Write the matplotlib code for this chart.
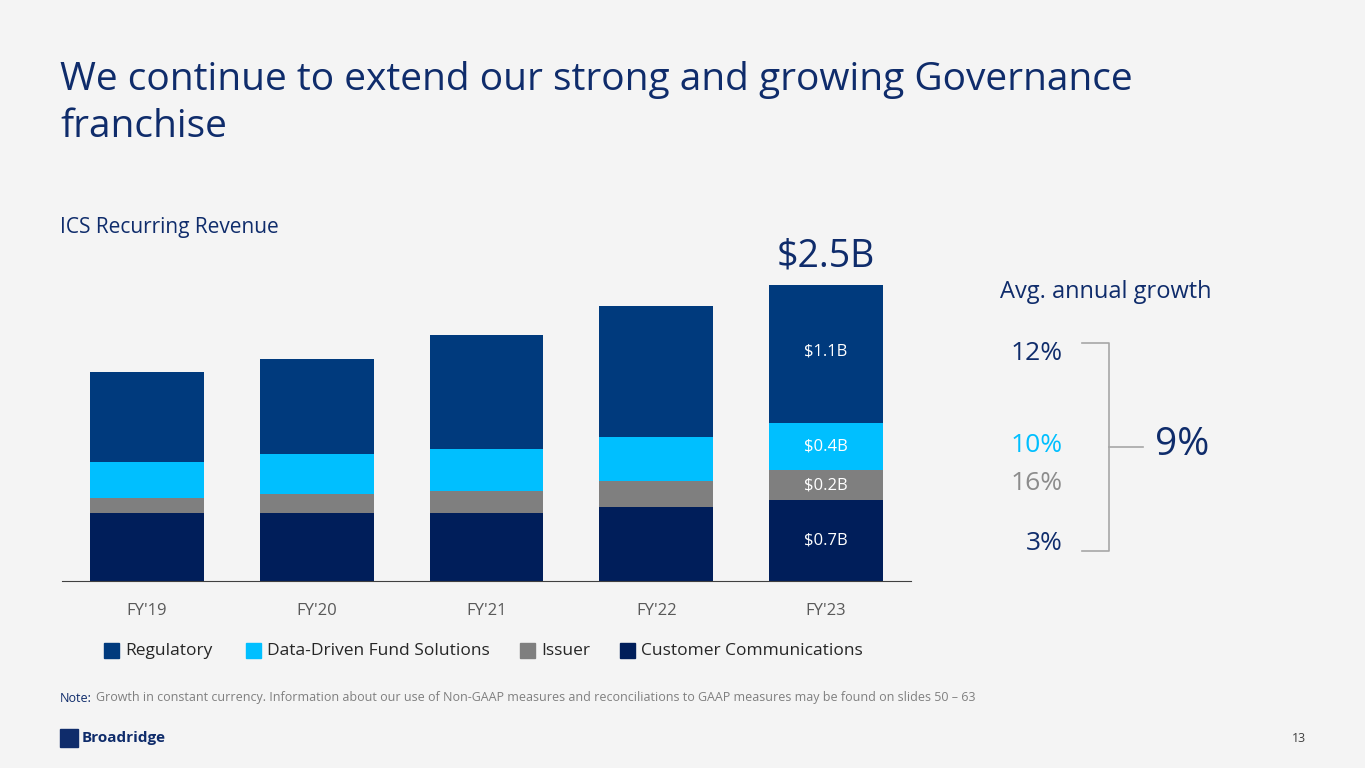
import matplotlib
matplotlib.use("Agg")
import matplotlib.pyplot as plt
from matplotlib.patches import Rectangle
import numpy as np

plt.rcParams['font.family'] = ['Open Sans', 'DejaVu Sans']

years = ["FY'19", "FY'20", "FY'21", "FY'22", "FY'23"]
customer_comm = [0.57, 0.57, 0.57, 0.62, 0.68]
issuer = [0.13, 0.16, 0.19, 0.22, 0.25]
ddfs = [0.30, 0.34, 0.35, 0.37, 0.40]
regulatory = [0.76, 0.80, 0.96, 1.10, 1.16]
fy23_labels = ["$0.7B", "$0.2B", "$0.4B", "$1.1B"]
series_names = ["Regulatory", "Data-Driven Fund Solutions", "Issuer", "Customer Communications"]
growth = ["12%", "10%", "16%", "3%"]

C_REG, C_DDFS, C_ISS, C_CC = "#003A7D", "#00BFFF", "#7F7F7F", "#001E5A"
BG = "#F4F4F4"
TITLE = "#0F2C6B"

W, H = 1365, 768
fig = plt.figure(figsize=(13.65, 7.68), dpi=100, facecolor=BG)
def fx(p): return p / W
def fy(p): return 1 - p / H

fig.text(fx(60), fy(80), "We continue to extend our strong and growing Governance",
         fontsize=28, color=TITLE, va="center", ha="left")
fig.text(fx(60), fy(127), "franchise", fontsize=28, color=TITLE, va="center", ha="left")
fig.text(fx(60), fy(228), "ICS Recurring Revenue", fontsize=15, color=TITLE, va="center")

ax = fig.add_axes([fx(62), fy(581), fx(911) - fx(62), (581 - 260) / H])
ax.set_facecolor(BG)
x = np.arange(len(years))
w = 0.67
b = np.zeros(5)
for vals, c in [(customer_comm, C_CC), (issuer, C_ISS), (ddfs, C_DDFS), (regulatory, C_REG)]:
    ax.bar(x, vals, w, bottom=b, color=c)
    b = b + np.array(vals)
ax.set_xlim(-0.5, 4.5)
ax.set_ylim(0, 2.7)
for s in ["top", "right", "left"]:
    ax.spines[s].set_visible(False)
ax.spines["bottom"].set_color("#404040")
ax.set_yticks([])
ax.set_xticks(x)
ax.set_xticklabels(years, fontsize=12, color="#595959")
ax.tick_params(axis="x", length=0, pad=16)

bot = 0
for v, lab in zip([customer_comm[4], issuer[4], ddfs[4], regulatory[4]], fy23_labels):
    yc = bot + v / 2 if lab != "$1.1B" else bot + v * 0.52
    ax.text(4, yc, lab, ha="center", va="center", color="white", fontsize=12)
    bot += v
ax.text(4, b[4] + 0.08, "$2.5B", ha="center", va="bottom", color=TITLE, fontsize=27)

# legend
lx = [104, 246, 520, 620]
for px, name, c in zip(lx, series_names, [C_REG, C_DDFS, C_ISS, C_CC]):
    fig.patches.append(Rectangle((fx(px), fy(658)), fx(15), 15 / H, color=c, transform=fig.transFigure))
    fig.text(fx(px + 21), fy(651), name, fontsize=12.5, color="#262626", va="center")

# right panel
fig.text(fx(1000), fy(292), "Avg. annual growth", fontsize=17, color=TITLE, va="center")
for yy, t, c in zip([354, 446, 483, 544], growth, [TITLE, C_DDFS, "#8C8C8C", TITLE]):
    fig.text(fx(1063), fy(yy), t, fontsize=19, color=c, va="center", ha="right")
lc = "#A6A6A6"
fig.add_artist(plt.Line2D([fx(1082), fx(1109), fx(1109), fx(1082)], [fy(343), fy(343), fy(551), fy(551)], color=lc, lw=1.2))
fig.add_artist(plt.Line2D([fx(1109), fx(1143)], [fy(447), fy(447)], color=lc, lw=1.2))
fig.text(fx(1155), fy(445), "9%", fontsize=28, color=TITLE, va="center")

fig.text(fx(60), fy(698), "Note:", fontsize=9, color=TITLE, va="center")
fig.text(fx(96), fy(698), "Growth in constant currency. Information about our use of Non-GAAP measures and reconciliations to GAAP measures may be found on slides 50 – 63",
         fontsize=9, color="#7F7F7F", va="center")
fig.text(fx(82), fy(738), "Broadridge", fontsize=11, color=TITLE, va="center", weight="bold")
fig.patches.append(Rectangle((fx(60), fy(747)), fx(18), 18 / H, color=TITLE, transform=fig.transFigure))
fig.text(fx(1306), fy(738), "13", fontsize=9, color="#404040", va="center", ha="right")

fig.savefig("out.png", dpi=100, facecolor=BG)
